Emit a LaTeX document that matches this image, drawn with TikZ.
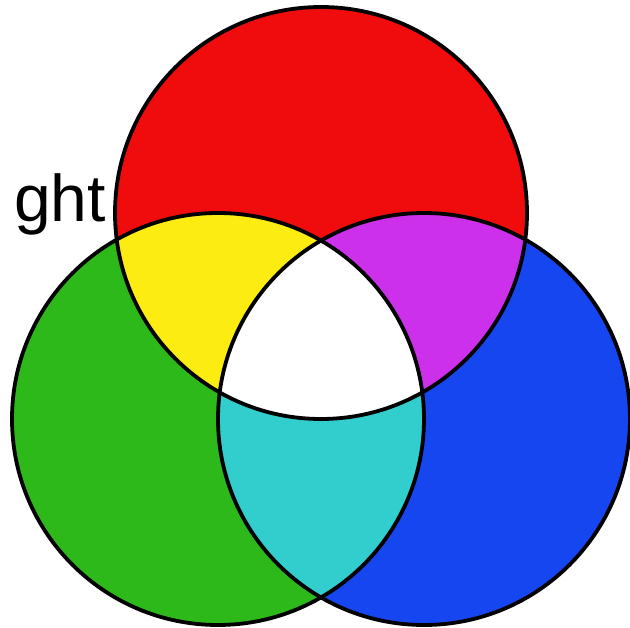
\documentclass[tikz,border=0pt]{standalone}
\usepackage{fontspec}
\setmainfont{Liberation Sans}
\definecolor{cred}{RGB}{240,12,12}
\definecolor{cgreen}{RGB}{45,185,25}
\definecolor{cblue}{RGB}{22,70,240}
\definecolor{cyellow}{RGB}{252,236,18}
\definecolor{cmagenta}{RGB}{205,48,235}
\definecolor{ccyan}{RGB}{50,205,205}
\tikzset{outline/.style={draw=black,line width=3.8pt}}
\begin{document}
\begin{tikzpicture}[x=1pt,y=-1pt]
\useasboundingbox (0,0) rectangle (630,628);
\fill[white] (0,0) rectangle (630,628);
\coordinate (R) at (321,213);
\coordinate (G) at (218,419);
\coordinate (B) at (424,419);
\def\rad{206}
\node[anchor=base east,inner sep=0pt,font=\fontsize{66}{78}\selectfont] (lbl) at (106,222) {ght};
\fill[cred] (R) circle (\rad);
\fill[cgreen] (G) circle (\rad);
\fill[cblue] (B) circle (\rad);
\begin{scope}
\clip (R) circle (\rad);
\fill[cyellow] (G) circle (\rad);
\fill[cmagenta] (B) circle (\rad);
\end{scope}
\begin{scope}
\clip (G) circle (\rad);
\fill[ccyan] (B) circle (\rad);
\clip (B) circle (\rad);
\fill[white] (R) circle (\rad);
\end{scope}
\draw[outline] (R) circle (\rad);
\draw[outline] (G) circle (\rad);
\draw[outline] (B) circle (\rad);
\end{tikzpicture}
\end{document}
